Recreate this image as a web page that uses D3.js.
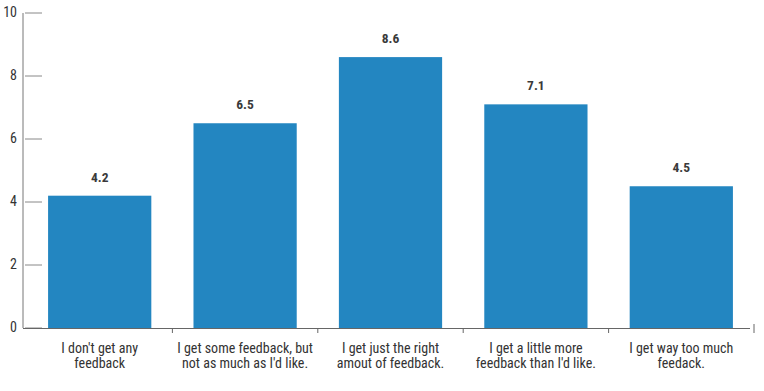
<!DOCTYPE html>
<html><head><meta charset="utf-8">
<script src="https://cdn.jsdelivr.net/npm/d3@7"></script>
<style>
body{margin:0;background:#fff;}
text{font-family:"Roboto Condensed","Liberation Sans Narrow","Roboto",sans-serif;}
</style></head>
<body><svg id="c" width="764" height="391"></svg>
<script>
const categories = [
  ["I don't get any", "feedback"],
  ["I get some feedback, but", "not as much as I'd like."],
  ["I get just the right", "amout of feedback."],
  ["I get a little more", "feedback than I'd like."],
  ["I get way too much", "feedack."]
];
const values = [4.2, 6.5, 8.6, 7.1, 4.5];
const yTicks = [0, 2, 4, 6, 8, 10];

const svg = d3.select("#c");
const x = d3.scaleBand().domain(d3.range(values.length)).range([27, 754]).paddingInner(0.29).paddingOuter(0.145);
const y = d3.scaleLinear().domain([0, 10]).range([328, 13]);

// y axis
const ya = svg.append("g");
ya.append("line").attr("x1", 23).attr("x2", 23).attr("y1", y(10)).attr("y2", y(0)).attr("stroke", "#777").attr("stroke-width", 1);
ya.selectAll("line.t").data(yTicks).join("line").attr("class","t")
  .attr("x1", 25).attr("x2", 42).attr("y1", d => y(d)).attr("y2", d => y(d)).attr("stroke", "#888").attr("stroke-width", 1);
ya.selectAll("text").data(yTicks).join("text")
  .attr("x", 17).attr("y", d => y(d) - 1).attr("dy", "0.35em").attr("text-anchor", "end")
  .attr("font-size", 14).attr("fill", "#333").text(d => d);

// bars
svg.selectAll("rect.bar").data(values).join("rect").attr("class","bar")
  .attr("x", (d,i) => x(i)).attr("width", x.bandwidth())
  .attr("y", d => y(d)).attr("height", d => y(0) - y(d)).attr("fill", "#2386c1");

// value labels
svg.selectAll("text.v").data(values).join("text").attr("class","v")
  .attr("x", (d,i) => x(i) + x.bandwidth()/2).attr("y", d => y(d) - 14)
  .attr("text-anchor", "middle").attr("font-size", 13.5).attr("font-weight", "bold").attr("fill", "#3a3a3a")
  .text(d => d.toFixed(1));

// x axis
const xa = svg.append("g");
xa.append("line").attr("x1", 23).attr("x2", 750).attr("y1", y(0)+0.5).attr("y2", y(0)+0.5).attr("stroke", "#666");
const step = x.step();
const bounds = d3.range(1, values.length + 1).map(i => x(i - 1) + x.bandwidth() + step * x.paddingInner() / 2);
xa.selectAll("line.b").data(bounds).join("line").attr("class","b")
  .attr("x1", d => d).attr("x2", d => d).attr("y1", (d,i) => i === bounds.length-1 ? y(0)-4 : y(0)).attr("y2", y(0) + 5).attr("stroke", "#666");

const lab = xa.selectAll("text.c").data(categories).join("text").attr("class","c")
  .attr("text-anchor", "middle").attr("font-size", 14).attr("fill", "#333");
lab.selectAll("tspan").data((d,i) => d.map(s => ({s, i}))).join("tspan")
  .attr("x", d => x(d.i) + x.bandwidth()/2).attr("y", (d,j) => 353 + j*15).text(d => d.s);
</script></body></html>
